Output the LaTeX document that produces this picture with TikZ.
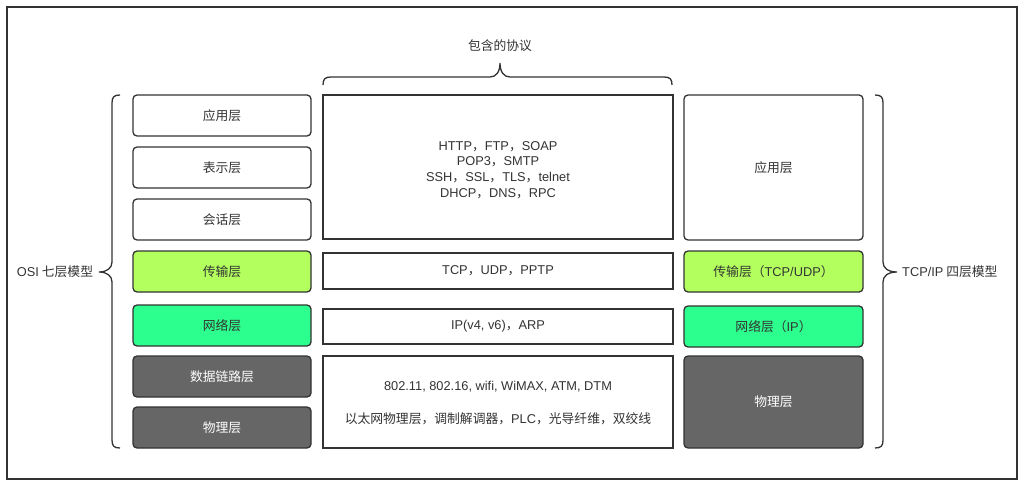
\documentclass[tikz,border=0pt]{standalone}
\usepackage{fontspec}
\setmainfont{Noto Sans CJK SC}
\newfontfamily\latfont{Liberation Sans}
\newcommand\lsf[1]{{\latfont #1}}
\definecolor{ink}{HTML}{333333}
\definecolor{transc}{HTML}{B3FF5E}
\definecolor{netc}{HTML}{2DFF8E}
\definecolor{physc}{HTML}{666666}
\begin{document}
\begin{tikzpicture}[x=1pt,y=-1pt,
  every node/.style={font=\fontsize{12.8}{15.7}\selectfont, text=ink, inner sep=0pt},
  layer/.style={draw=ink, line width=1.3pt, rounded corners=4pt, fill=white, minimum width=#1},
  layer/.default=178,
  proto/.style={draw=ink, line width=1.3pt, fill=white, minimum width=350, align=center},
  transl/.style={fill=transc},
  netl/.style={fill=netc},
  physl/.style={fill=physc, text=white},
  bracepath/.style={draw=ink, line width=1.3pt},
  lbl/.style={text=ink}]
\useasboundingbox (0,0) rectangle (1024,486);
\draw[draw=ink, line width=1.3pt] (7,7) rectangle (1017,479);

% OSI column
\node[layer, minimum height=41] (osiapp) at (222,115.5) {应用层};
\node[layer, minimum height=41] (osipres) at (222,167.5) {表示层};
\node[layer, minimum height=41] (osisess) at (222,219.5) {会话层};
\node[layer, transl, minimum height=41] (ositrans) at (222,271.5) {传输层};
\node[layer, netl, minimum height=41] (osinet) at (222,325.5) {网络层};
\node[layer, physl, minimum height=41] (osidl) at (222,376.5) {数据链路层};
\node[layer, physl, minimum height=41] (osiphys) at (222,427.5) {物理层};

% protocols column
\node[proto, minimum height=144] (papp) at (498,167) {};
\node[align=center] (papptxt) at (498,170) {\lsf{HTTP}，\lsf{FTP}，\lsf{SOAP}\\\lsf{POP3}，\lsf{SMTP}\\\lsf{SSH}，\lsf{SSL}，\lsf{TLS}，\lsf{telnet}\\\lsf{DHCP}，\lsf{DNS}，\lsf{RPC}};
\node[proto, minimum height=36] (ptrans) at (498,271) {\lsf{TCP}，\lsf{UDP}，\lsf{PPTP}};
\node[proto, minimum height=35] (pnet) at (498,326.5) {\lsf{IP(v4, v6)}，\lsf{ARP}};
\node[proto, minimum height=92] (pphys) at (498,402) {};
\node (pphysa) at (498,387) {\lsf{802.11, 802.16, wifi, WiMAX, ATM, DTM}};
\node (pphysb) at (498,419) {以太网物理层，调制解调器，\lsf{PLC}，光导纤维，双绞线};

% TCP/IP column
\node[layer=179, minimum height=145] (tapp) at (773.5,167.5) {应用层};
\node[layer=179, transl, minimum height=41] (ttrans) at (773.5,271.5) {传输层（\lsf{TCP/UDP}）};
\node[layer=179, netl, minimum height=41] (tnet) at (773.5,326.5) {网络层（\lsf{IP}）};
\node[layer=179, physl, minimum height=92] (tphys) at (773.5,402) {物理层};

% labels
\node[lbl] (ttop) at (500,46) {包含的协议};
\node[lbl] (tosi) at (55,272) {\lsf{OSI} 七层模型};
\node[lbl, anchor=west] (ttcp) at (902,272) {\lsf{TCP/IP} 四层模型};

% top brace
\draw[bracepath] (323,85) .. controls (323,79) and (325,77) .. (331,77) -- (490,77)
  .. controls (496,77) and (500,72) .. (500,63)
  .. controls (500,72) and (504,77) .. (510,77) -- (664,77)
  .. controls (670,77) and (672,79) .. (672,85);
% left brace
\draw[bracepath] (120,95) .. controls (114,95) and (112,97) .. (112,103) -- (112,262)
  .. controls (112,268) and (107,272) .. (99,272)
  .. controls (107,272) and (112,276) .. (112,282) -- (112,440)
  .. controls (112,446) and (114,448) .. (120,448);
% right brace
\draw[bracepath] (875,95) .. controls (881,95) and (883,97) .. (883,103) -- (883,262)
  .. controls (883,268) and (888,272) .. (897,272)
  .. controls (888,272) and (883,276) .. (883,282) -- (883,440)
  .. controls (883,446) and (881,448) .. (875,448);
\end{tikzpicture}
\end{document}
